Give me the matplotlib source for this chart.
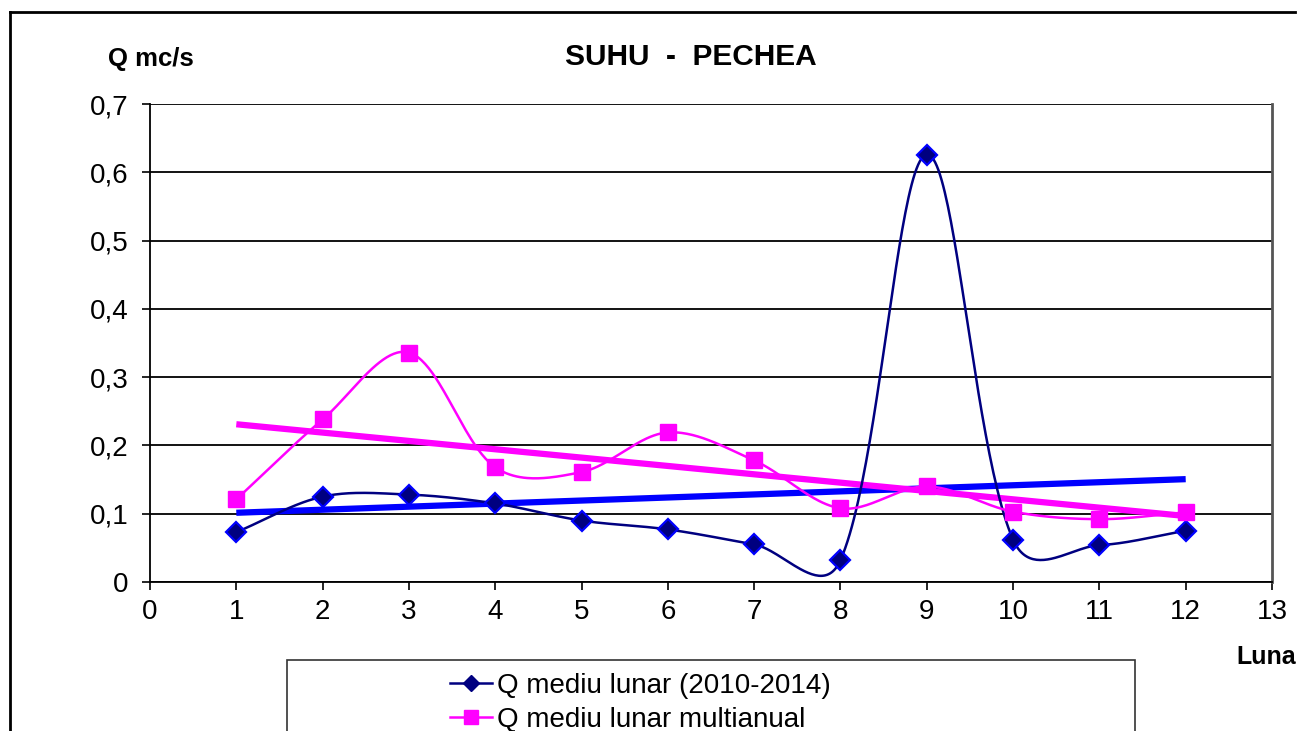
import matplotlib.pyplot as plt
from matplotlib.lines import Line2D
from matplotlib.patches import Rectangle
import numpy as np

plt.rcParams['font.family'] = ['Liberation Sans', 'DejaVu Sans']

# monthly discharge, Suhu - Pechea
luna = [1, 2, 3, 4, 5, 6, 7, 8, 9, 10, 11, 12]
q_2010_2014 = [0.073, 0.125, 0.128, 0.115, 0.090, 0.077, 0.055, 0.032, 0.626, 0.062, 0.054, 0.075]
q_multianual = [0.121, 0.238, 0.336, 0.168, 0.161, 0.219, 0.178, 0.108, 0.140, 0.103, 0.092, 0.102]
x_ticks = list(range(0, 14))
y_ticks = [0, 0.1, 0.2, 0.3, 0.4, 0.5, 0.6, 0.7]
y_labels = ['0', '0,1', '0,2', '0,3', '0,4', '0,5', '0,6', '0,7']

W, H = 1297, 731
AX_L, AX_B, AX_W, AX_H = 150, 149, 1122, 478
XMAX, YMAX = 13, 0.7


def smooth(x, y, n=50):
    # bezier smoothing like Excel, done in pixel space
    kx, ky = AX_W / XMAX, AX_H / YMAX
    P = np.column_stack([np.asarray(x, float) * kx, np.asarray(y, float) * ky])
    m = len(P)
    d = np.linalg.norm(np.diff(P, axis=0), axis=1)
    t = np.linspace(0, 1, n)[:, None]
    pts = []
    for i in range(m - 1):
        p1, p2 = P[i], P[i + 1]
        if i > 0:
            f = np.sqrt(d[i]) / (np.sqrt(d[i - 1]) + np.sqrt(d[i])) / 3
            c1 = p1 + (P[i + 1] - P[i - 1]) * f
        else:
            c1 = p1 + (p2 - p1) / 3
        if i < m - 2:
            f = np.sqrt(d[i]) / (np.sqrt(d[i]) + np.sqrt(d[i + 1])) / 3
            c2 = p2 - (P[i + 2] - P[i]) * f
        else:
            c2 = p2 - (p2 - p1) / 3
        pts.append((1 - t) ** 3 * p1 + 3 * (1 - t) ** 2 * t * c1
                   + 3 * (1 - t) * t ** 2 * c2 + t ** 3 * p2)
    pts = np.vstack(pts)
    return pts[:, 0] / kx, pts[:, 1] / ky


fig = plt.figure(figsize=(W / 100, H / 100), dpi=100)
ax = fig.add_axes([AX_L / W, AX_B / H, AX_W / W, AX_H / H])

for yv in y_ticks:
    ax.axhline(yv, color='black', lw=1.3, zorder=1)

# trend lines
for ys, col in ((q_2010_2014, '#0000FF'), (q_multianual, '#FF00FF')):
    k, b = np.polyfit(luna, ys, 1)
    xt = np.array([luna[0], luna[-1]])
    ax.plot(xt, k * xt + b, color=col, lw=4.5, zorder=3, solid_capstyle='butt')

sx, sy = smooth(luna, q_2010_2014)
ax.plot(sx, sy, color='#000080', lw=1.8, zorder=4)
ax.plot(luna, q_2010_2014, ls='none', marker='D', ms=10, mfc='#000080',
        mec='#0000FF', mew=1.6, zorder=5)
sx, sy = smooth(luna, q_multianual)
ax.plot(sx, sy, color='#FF00FF', lw=1.8, zorder=4)
ax.plot(luna, q_multianual, ls='none', marker='s', ms=11.5, mfc='#FF00FF',
        mec='#FF00FF', zorder=5)

ax.set_xlim(0, XMAX)
ax.set_ylim(0, YMAX)
ax.set_xticks(x_ticks)
ax.set_yticks(y_ticks)
ax.set_yticklabels(y_labels)
ax.tick_params(labelsize=20, length=5.5, width=1.2)
ax.tick_params(axis='y', pad=10)
ax.tick_params(axis='x', pad=7)
ax.spines['top'].set_visible(False)
ax.spines['right'].set_color('#555555')
ax.spines['right'].set_linewidth(2)
for s in ('left', 'bottom'):
    ax.spines[s].set_linewidth(1.3)

fig.text(565 / W, 1 - 57 / H, 'SUHU  -  PECHEA', fontsize=21.5, fontweight='bold',
         ha='left', va='center')
fig.text(108 / W, 1 - 59 / H, 'Q mc/s', fontsize=18.5, fontweight='bold',
         ha='left', va='center')
fig.text(1296 / W, 1 - 657 / H, 'Luna', fontsize=18, fontweight='bold',
         ha='right', va='center')

# outer frame (top and left edges)
fig.add_artist(Line2D([10 / W, 1295 / W], [1 - 12 / H, 1 - 12 / H],
                      color='black', lw=2, transform=fig.transFigure))
fig.add_artist(Line2D([10 / W, 10 / W], [1 - 12 / H, 0],
                      color='black', lw=2, transform=fig.transFigure))

# legend box
fig.add_artist(Rectangle((287 / W, -0.05), 848 / W, 0.05 + 71 / H,
                         fill=False, ec='#333333', lw=1.2, transform=fig.transFigure))
handles = [Line2D([], [], color='#000080', lw=1.8, marker='D', ms=8, mfc='#000080', mec='#000080'),
           Line2D([], [], color='#FF00FF', lw=1.8, marker='s', ms=10, mfc='#FF00FF', mec='#FF00FF')]
fig.legend(handles, ['Q mediu lunar (2010-2014)', 'Q mediu lunar multianual'],
           loc='upper left', bbox_to_anchor=(436 / W, 1 - 659 / H),
           frameon=False, fontsize=20, handlelength=1.5, handletextpad=0.2,
           labelspacing=0.28, borderpad=0)

fig.savefig('out.png', dpi=100)
